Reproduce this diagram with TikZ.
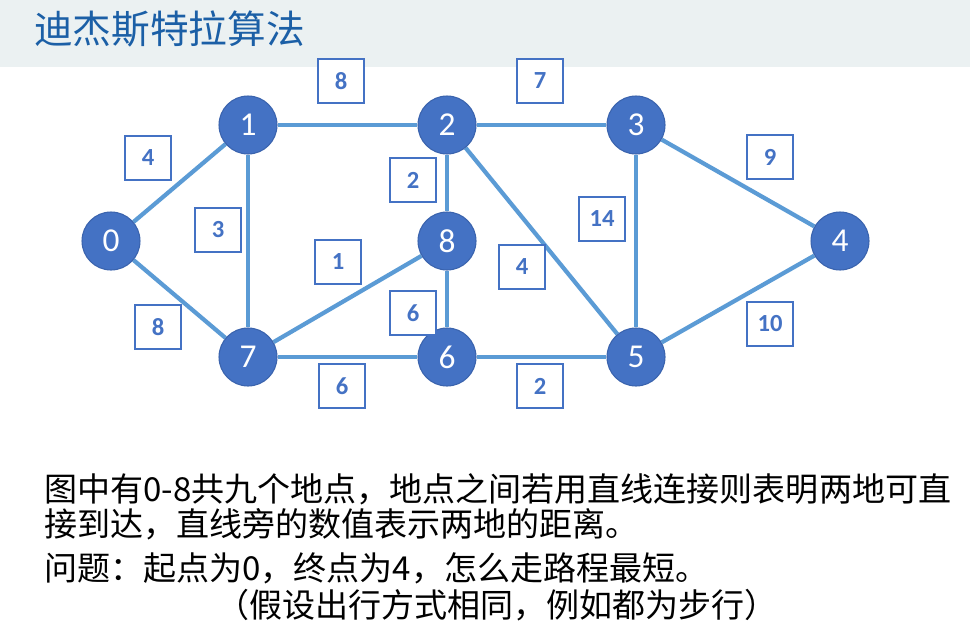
\documentclass[tikz,border=0pt]{standalone}
\usepackage{fontspec}
\usepackage{xcolor}
\usetikzlibrary{backgrounds}
\setmainfont{Noto Sans CJK SC}
\newfontfamily\numfont{Carlito}
\definecolor{dijkBand}{HTML}{EBF1F2}
\definecolor{dijkTitle}{HTML}{1B5FA6}
\definecolor{dijkNode}{HTML}{4472C4}
\definecolor{dijkRim}{HTML}{3A63AD}
\definecolor{dijkEdge}{HTML}{5B9BD5}

\begin{document}
\begin{tikzpicture}[x=0.02cm,y=-0.02cm,
    vertex/.style={circle, fill=dijkNode, draw=dijkRim, line width=0.6pt, minimum size=1.16cm, inner sep=0pt, text=white, font=\numfont\fontsize{19}{21}\selectfont},
    weight/.style={rectangle, fill=white, draw=dijkNode, line width=0.7pt, minimum width=0.92cm, minimum height=0.88cm, inner sep=0pt, text=dijkNode, font=\numfont\bfseries\fontsize{14}{16}\selectfont},
    road/.style={dijkEdge, line width=2.4pt},
    every node/.style={font=\fontsize{18.8}{22}\selectfont}]
    \useasboundingbox (0,0) rectangle (970,632);
    \node[anchor=west, text=dijkTitle, font=\fontsize{22}{25}\selectfont] (title) at (28,29) {迪杰斯特拉算法};
    % places
    \node[vertex] (v0) at (111,241) {0};
    \node[vertex] (v1) at (248,125) {1};
    \node[vertex] (v2) at (447,125) {2};
    \node[vertex] (v3) at (636,125) {3};
    \node[vertex] (v4) at (840,241) {4};
    \node[vertex] (v5) at (636,357) {5};
    \node[vertex] (v6) at (447,357) {6};
    \node[vertex] (v7) at (248,357) {7};
    \node[vertex] (v8) at (447,241) {8};
    % roads
    \begin{scope}[on background layer]
    \fill[dijkBand] (0,0) rectangle (970,67);
    \draw[road] (v0) -- (v1);
    \draw[road] (v0) -- (v7);
    \draw[road] (v1) -- (v2);
    \draw[road] (v1) -- (v7);
    \draw[road] (v2) -- (v3);
    \draw[road] (v2) -- (v8);
    \draw[road] (v2) -- (v5);
    \draw[road] (v8) -- (v7);
    \draw[road] (v8) -- (v6);
    \draw[road] (v7) -- (v6);
    \draw[road] (v6) -- (v5);
    \draw[road] (v3) -- (v5);
    \draw[road] (v3) -- (v4);
    \draw[road] (v5) -- (v4);
    \end{scope}
    % distances
    \node[weight] (w12) at (341,81) {8};
    \node[weight] (w23) at (540,81) {7};
    \node[weight] (w01) at (148,158) {4};
    \node[weight] (w17) at (218,230) {3};
    \node[weight] (w07) at (158,327) {8};
    \node[weight] (w28) at (413,180) {2};
    \node[weight] (w87) at (338,262) {1};
    \node[weight] (w86) at (413,313) {6};
    \node[weight] (w76) at (342,386) {6};
    \node[weight] (w65) at (540,386) {2};
    \node[weight] (w25) at (522,267) {4};
    \node[weight] (w35) at (602,219) {14};
    \node[weight] (w34) at (770,157) {9};
    \node[weight] (w54) at (770,324) {10};
    % question
    \node[anchor=west] (q1) at (38,489) {图中有0-8共九个地点，地点之间若用直线连接则表明两地可直};
    \node[anchor=west] (q2) at (38,524) {接到达，直线旁的数值表示两地的距离。};
    \node[anchor=west] (q3) at (38,568) {问题：起点为0，终点为4，怎么走路程最短。};
    \node (q4) at (497,605) {（假设出行方式相同，例如都为步行）};
  \end{tikzpicture}
\end{document}
